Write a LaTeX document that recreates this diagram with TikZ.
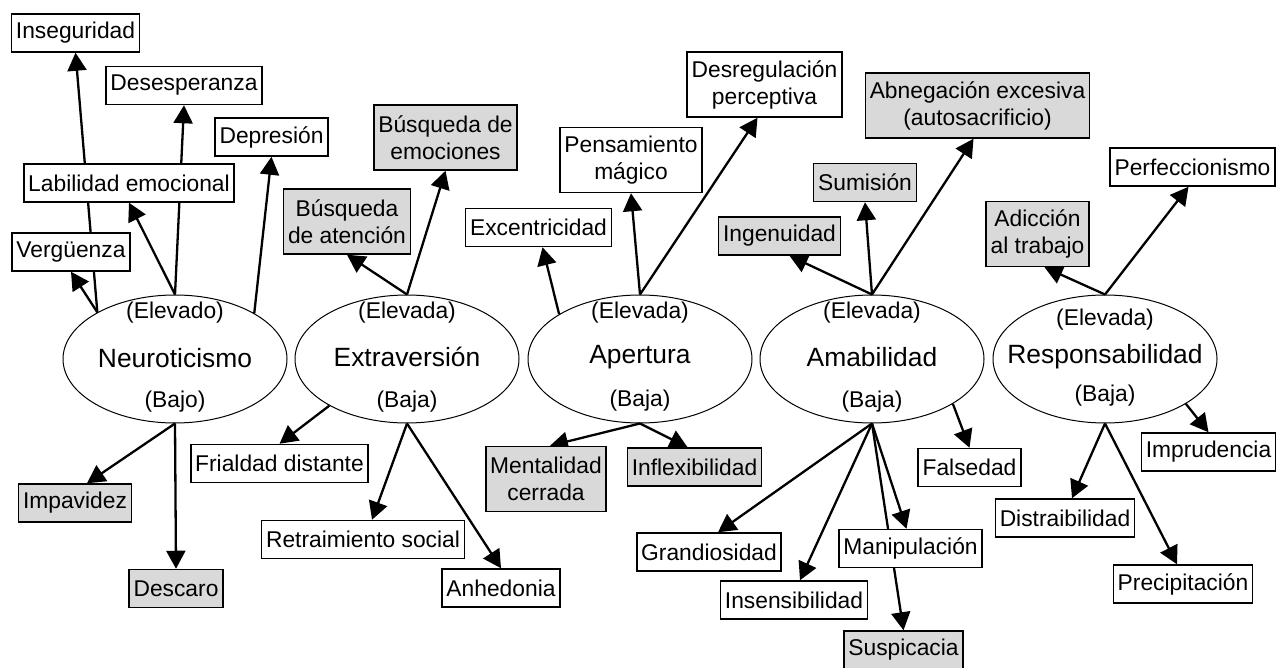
\documentclass[tikz,border=0pt]{standalone}
\usepackage{fontspec}
\setmainfont{Liberation Sans}
\usepackage{tikz}
\usetikzlibrary{shapes.geometric}
\usetikzlibrary{arrows.meta}
\usetikzlibrary{backgrounds}
\usepackage{xcolor}
\definecolor{boxgray}{RGB}{217,217,217}
\tikzset{
  trait/.style={draw, ellipse, line width=0.5pt, minimum width=112pt, minimum height=64pt, inner sep=0pt},
  traitname/.style={inner sep=0pt, font=\fontsize{13.2}{15}\selectfont},
  pole/.style={inner sep=0pt, font=\fontsize{11.4}{13}\selectfont},
  facet/.style={draw, fill=white, line width=0.75pt, inner xsep=2.2pt, minimum height=19pt, align=center, font=\fontsize{11.4}{13.5}\selectfont},
  facetgray/.style={facet, fill=boxgray},
  twoline/.style={minimum height=32.5pt},
  link/.style={line width=1.15pt, -{Triangle[length=9pt,width=9.5pt]}}
}

\begin{document}
\begin{tikzpicture}[x=0.5pt,y=-0.5pt]
% page size as the picture
\useasboundingbox (0,0) rectangle (1280,668);

%%%%%%%%%%%%%%%%%%%%%%%%%%%%%%%%%%%%%%%%%%%%%%%%%%%%%%%%%%%%%% Ellipses
\node[trait] (neuro) at (175,359) {};
\node[pole] (neuro-hi) at (175,313) {(Elevado)};
\node[traitname] (neuro-name) at (175,358) {Neuroticismo};
\node[pole] (neuro-lo) at (175,402) {(Bajo)};

\node[trait] (extra) at (407,359) {};
\node[pole] (extra-hi) at (407,313) {(Elevada)};
\node[traitname] (extra-name) at (407,357) {Extraversión};
\node[pole] (extra-lo) at (407,402) {(Baja)};

\node[trait] (apert) at (640,359) {};
\node[pole] (apert-hi) at (640,313) {(Elevada)};
\node[traitname] (apert-name) at (640,357) {Apertura};
\node[pole] (apert-lo) at (640,401) {(Baja)};

\node[trait] (amab) at (872,359) {};
\node[pole] (amab-hi) at (872,313) {(Elevada)};
\node[traitname] (amab-name) at (872,357) {Amabilidad};
\node[pole] (amab-lo) at (872,402) {(Baja)};

\node[trait] (resp) at (1105,359) {};
\node[pole] (resp-hi) at (1105,320) {(Elevada)};
\node[traitname] (resp-name) at (1105,357) {Responsabilidad};
\node[pole] (resp-lo) at (1105,396) {(Baja)};

%%%%%%%%%%%%%%%%%%%%%%%%%%%%%%%%%%%%%%%%%%%%%%%%%%%%%%%%%%%%%% Neuroticismo
\node[facet] (inseg) at (75.5,33) {Inseguridad};
\node[facet] (desesp) at (184,85.5) {Desesperanza};
\node[facet] (depres) at (271.5,137) {Depresión};
\node[facet] (labil) at (129,183) {Labilidad emocional};
\node[facet] (verg) at (71,252) {Vergüenza};
\node[facetgray] (impav) at (75,503) {Impavidez};
\node[facetgray] (descaro) at (176,588.5) {Descaro};

%%%%%%%%%%%%%%%%%%%%%%%%%%%%%%%%%%%%%%%%%%%%%%%%%%%%%%%%%%%%%% Extraversion
\node[facetgray, twoline] (batenc) at (347,221.5) {Búsqueda\\de atención};
\node[facetgray, twoline] (bemoc) at (445.5,137.5) {Búsqueda de\\emociones};
\node[facet] (frial) at (279.5,463.5) {Frialdad distante};
\node[facet] (retra) at (363,539.5) {Retraimiento social};
\node[facet] (anhed) at (501,588) {Anhedonia};

%%%%%%%%%%%%%%%%%%%%%%%%%%%%%%%%%%%%%%%%%%%%%%%%%%%%%%%%%%%%%% Apertura
\node[facet] (excen) at (538.5,227.5) {Excentricidad};
\node[facet, twoline] (pensa) at (631,160) {Pensamiento\\mágico};
\node[facet, twoline] (desreg) at (764.5,84.5) {Desregulación\\perceptiva};
\node[facetgray, twoline] (mental) at (546,479) {Mentalidad\\cerrada};
\node[facetgray] (inflex) at (694.5,467) {Inflexibilidad};

%%%%%%%%%%%%%%%%%%%%%%%%%%%%%%%%%%%%%%%%%%%%%%%%%%%%%%%%%%%%%% Amabilidad
\node[facetgray] (ingen) at (779.5,236) {Ingenuidad};
\node[facetgray] (sumis) at (865,182.5) {Sumisión};
\node[facetgray, twoline] (abneg) at (977.5,105.5) {Abnegación excesiva\\(autosacrificio)};
\node[facet] (falsed) at (969.5,467.5) {Falsedad};
\node[facet] (grand) at (709,552) {Grandiosidad};
\node[facet] (insens) at (794,600) {Insensibilidad};
\node[facet] (manip) at (910.5,548.5) {Manipulación};
\node[facetgray] (suspic) at (903.5,650) {Suspicacia};

%%%%%%%%%%%%%%%%%%%%%%%%%%%%%%%%%%%%%%%%%%%%%%%%%%%%%%%%%%%%%% Responsabilidad
\node[facetgray, twoline] (adicc) at (1037.5,234) {Adicción\\al trabajo};
\node[facet] (perfec) at (1192.5,167) {Perfeccionismo};
\node[facet] (impru) at (1208.5,452) {Imprudencia};
\node[facet] (distr) at (1065,518) {Distraibilidad};
\node[facet] (precip) at (1183,584) {Precipitación};

%%%%%%%%%%%%%%%%%%%%%%%%%%%%%%%%%%%%%%%%%%%%%%%%%%%%%%%%%%%%%% Arrows
% behind the boxes, so lines running through a box are hidden
\begin{pgfonlayer}{background}
\draw[link] (neuro.149) -- (verg.south);
\draw[link] (neuro.149) -- (inseg.south);
\draw[link] (neuro.90) -- (labil.south);
\draw[link] (neuro.90) -- (desesp.south);
\draw[link] (neuro.30) -- (depres.south);
\draw[link] (neuro.270) -- ([xshift=6pt]impav.north);
\draw[link] (neuro.270) -- (descaro.north);

\draw[link] (extra.90) -- (batenc.south);
\draw[link] (extra.90) -- (bemoc.south);
\draw[link] (extra.211) -- (frial.north);
\draw[link] (extra.270) -- ([xshift=4.5pt]retra.north);
\draw[link] (extra.270) -- (anhed.north);

\draw[link] (apert.151) -- ([xshift=2pt]excen.south);
\draw[link] (apert.90) -- (pensa.south);
\draw[link] (apert.90) -- ([xshift=-3.5pt]desreg.south);
\draw[link] (apert.270) -- ([xshift=2pt]mental.north);
\draw[link] (apert.270) -- ([xshift=-3.5pt]inflex.north);

\draw[link] (amab.90) -- ([xshift=5pt]ingen.south);
\draw[link] (amab.90) -- (sumis.south);
\draw[link] (amab.90) -- ([xshift=-2pt]abneg.south);
\draw[link] (amab.270) -- ([xshift=4.5pt]grand.north);
\draw[link] (amab.270) -- ([xshift=3pt]insens.north);
\draw[link] (amab.270) -- ([xshift=-2pt]manip.north);
\draw[link] (amab.270) -- (suspic.north);
\draw[link] (amab.331) -- (falsed.north);

\draw[link] (resp.90) -- ([xshift=3.5pt]adicc.south);
\draw[link] (resp.90) -- ([xshift=-2pt]perfec.south);
\draw[link] (resp.270) -- ([xshift=3.5pt]distr.north);
\draw[link] (resp.270) -- ([xshift=-3pt]precip.north);
\draw[link] (resp.331) -- (impru.north);
\end{pgfonlayer}

\end{tikzpicture}
\end{document}
